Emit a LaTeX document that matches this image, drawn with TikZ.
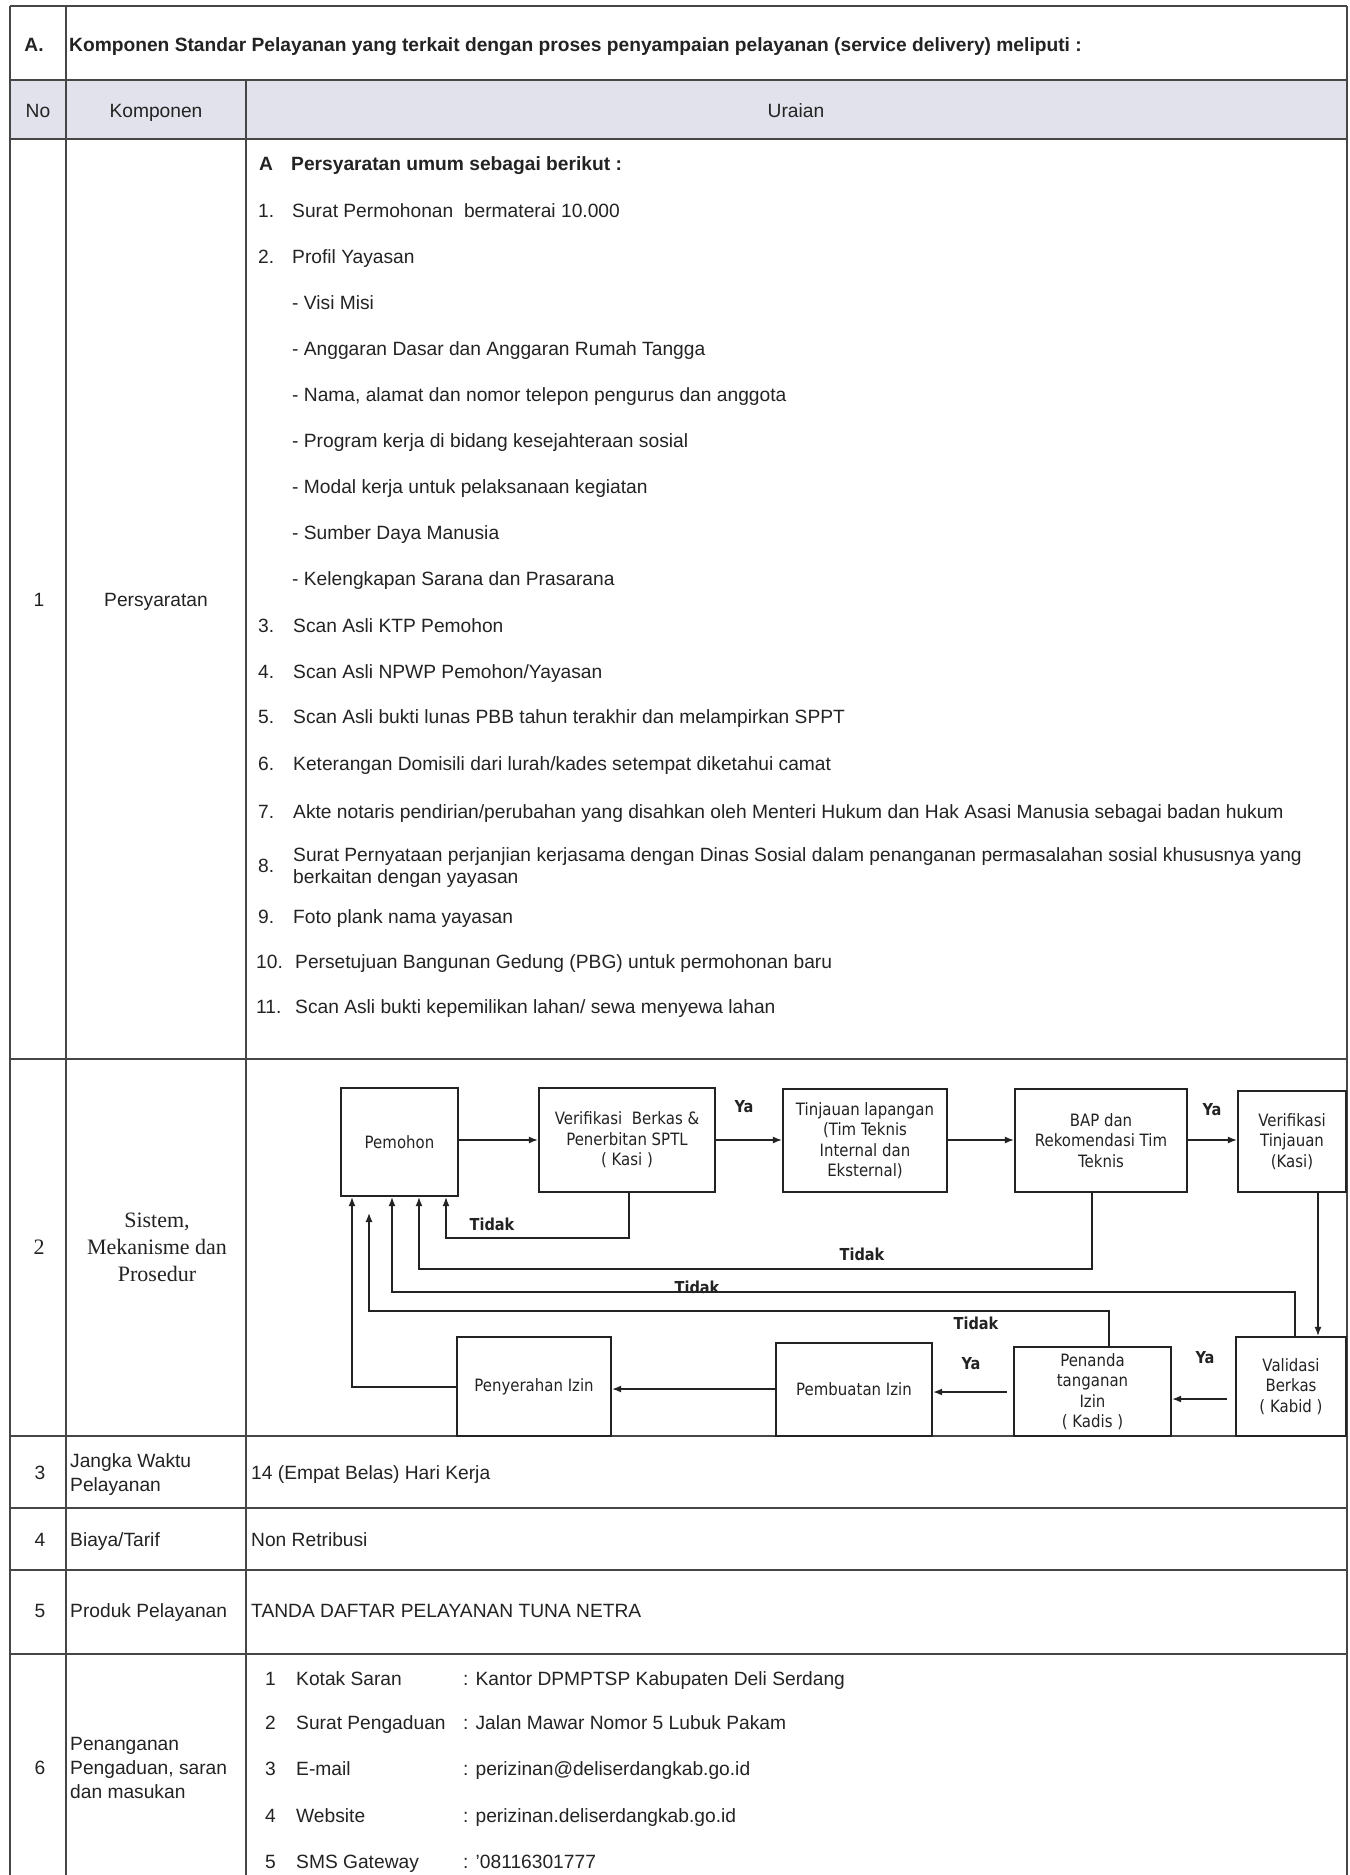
\documentclass[tikz,border=0pt]{standalone}
\usepackage{fontspec}
\setmainfont{Liberation Sans}
\newfontfamily\serifx{Liberation Serif}
\newfontfamily\flowf[FakeStretch=0.88]{DejaVu Sans}
\usetikzlibrary{arrows.meta,calc}
\definecolor{ink}{RGB}{35,35,35}
\definecolor{gridc}{RGB}{70,70,70}
\definecolor{hdr}{RGB}{226,226,236}
\newcommand\bodyf{\fontsize{19.2}{23}\selectfont}
\newcommand\flowsz{\flowf\fontsize{17}{20.5}\selectfont}
\begin{document}
\begin{tikzpicture}[x=1pt,y=-1pt,
 txt/.style={inner sep=0pt, anchor=west, font=\bodyf, text=ink, text height=13.7pt, text depth=0pt},
 txtc/.style={txt, anchor=center},
 txtb/.style={txt, font=\bodyf\bfseries},
 gline/.style={draw=gridc, line width=1.8pt},
 fbox/.style={draw=ink, line width=2.4pt, inner sep=1pt, align=center, font=\flowsz, text=ink},
 arr/.style={draw=ink, line width=1.2pt, -{Latex[length=9pt,width=7pt]}},
 lbl/.style={inner sep=0pt, font=\flowf\fontsize{16.5}{20}\selectfont\bfseries, text=ink},
]
\fill[white] (0,0) rectangle (1350,1875);
\useasboundingbox (0,0) rectangle (1350,1875);
% table
\fill[hdr] (10,80) rectangle (1347,139);
\draw[gline] (10,6) -- (1347,6);
\foreach \yy in {80,139,1059,1436,1508,1570,1654}{\draw[gline] (10,\yy) -- (1347,\yy);}
\draw[gline, line width=2.6pt] (10,6) -- (10,1875);
\draw[gline] (66,6) -- (66,1875);
\draw[gline] (246,80) -- (246,1875);
\draw[gline] (1347,6) -- (1347,1875);
% header
\node[txtb, anchor=center] (ha) at (34,45) {A.};
\node[txtb] (htitle) at (69,45) {Komponen Standar Pelayanan yang terkait dengan proses penyampaian pelayanan (service delivery) meliputi :};
\node[txtc] (hno) at (38,111) {No};
\node[txtc] (hkomp) at (156,111) {Komponen};
\node[txtc] (hur) at (796,111) {Uraian};
% row 1
\node[txtc] (n1) at (39,600) {1};
\node[txtc] (k1) at (156,600) {Persyaratan};
\node[txtb] (ra) at (259,164) {A};
\node[txtb] (rat) at (291,164) {Persyaratan umum sebagai berikut :};
\node[txt] (i1n) at (258,211) {1.};
\node[txt] (i1) at (292,211) {Surat Permohonan\ \ bermaterai 10.000};
\node[txt] (i2n) at (258,257) {2.};
\node[txt] (i2) at (292,257) {Profil Yayasan};
\node[txt] (s1) at (292,303) {- Visi Misi};
\node[txt] (s2) at (292,349) {- Anggaran Dasar dan Anggaran Rumah Tangga};
\node[txt] (s3) at (292,395) {- Nama, alamat dan nomor telepon pengurus dan anggota};
\node[txt] (s4) at (292,441) {- Program kerja di bidang kesejahteraan sosial};
\node[txt] (s5) at (292,487) {- Modal kerja untuk pelaksanaan kegiatan};
\node[txt] (s6) at (292,533) {- Sumber Daya Manusia};
\node[txt] (s7) at (292,579) {- Kelengkapan Sarana dan Prasarana};
\node[txt] (i3n) at (258,626) {3.};
\node[txt] (i3) at (293,626) {Scan Asli KTP Pemohon};
\node[txt] (i4n) at (258,672) {4.};
\node[txt] (i4) at (293,672) {Scan Asli NPWP Pemohon/Yayasan};
\node[txt] (i5n) at (258,717) {5.};
\node[txt] (i5) at (293,717) {Scan Asli bukti lunas PBB tahun terakhir dan melampirkan SPPT};
\node[txt] (i6n) at (258,764) {6.};
\node[txt] (i6) at (293,764) {Keterangan Domisili dari lurah/kades setempat diketahui camat};
\node[txt] (i7n) at (258,812) {7.};
\node[txt] (i7) at (293,812) {Akte notaris pendirian/perubahan yang disahkan oleh Menteri Hukum dan Hak Asasi Manusia sebagai badan hukum};
\node[txt] (i8n) at (258,866) {8.};
\node[txt] (i8a) at (293,855) {Surat Pernyataan perjanjian kerjasama dengan Dinas Sosial dalam penanganan permasalahan sosial khususnya yang};
\node[txt] (i8b) at (293,877) {berkaitan dengan yayasan};
\node[txt] (i9n) at (258,917) {9.};
\node[txt] (i9) at (293,917) {Foto plank nama yayasan};
\node[txt] (i10n) at (256,962) {10.};
\node[txt] (i10) at (295,962) {Persetujuan Bangunan Gedung (PBG) untuk permohonan baru};
\node[txt] (i11n) at (256,1007) {11.};
\node[txt] (i11) at (295,1007) {Scan Asli bukti kepemilikan lahan/ sewa menyewa lahan};
% row 2
\node[inner sep=0pt, font=\serifx\fontsize{22}{27}\selectfont, text=ink] (n2) at (39,1247) {2};
\node[inner sep=0pt, align=center, font=\serifx\fontsize{22}{27}\selectfont, text=ink] (k2) at (157,1247) {Sistem,\\Mekanisme dan\\Prosedur};
% flowchart boxes
\node[fbox, minimum width=117pt, minimum height=108pt] (pem) at (399.5,1142) {Pemohon};
\node[fbox, minimum width=176pt, minimum height=104pt] (ver) at (627,1140) {Verifikasi\ \ Berkas \&\\Penerbitan SPTL\\( Kasi )};
\node[fbox, minimum width=164pt, minimum height=103pt] (tin) at (865,1140.5) {Tinjauan lapangan\\(Tim Teknis\\Internal dan\\Eksternal)};
\node[fbox, minimum width=172pt, minimum height=103pt] (bap) at (1101,1140.5) {BAP dan\\Rekomendasi Tim\\Teknis};
\node[fbox, minimum width=108pt, minimum height=101pt] (vt) at (1292,1141.5) {Verifikasi\\Tinjauan\\(Kasi)};
\node[fbox, minimum width=110pt, minimum height=99pt] (val) at (1291,1386.5) {Validasi\\Berkas\\( Kabid )};
\node[fbox, minimum width=157pt, minimum height=89pt] (pen) at (1092.5,1391.5) {Penanda\\tanganan\\Izin\\( Kadis )};
\node[fbox, minimum width=156pt, minimum height=93pt] (pemb) at (854,1389.5) {Pembuatan Izin};
\node[fbox, minimum width=154pt, minimum height=99pt] (pyr) at (534,1386.5) {Penyerahan Izin};
% main flow
\coordinate (ya) at (0,1140);
\draw[arr] (pem.east |- ya) -- (ver.west |- ya);
\draw[arr] (ver.east |- ya) -- (tin.west |- ya);
\draw[arr] (tin.east |- ya) -- (bap.west |- ya);
\draw[arr] (bap.east |- ya) -- (vt.west |- ya);
\coordinate (xd) at (1318,0);
\draw[arr] (vt.south -| xd) -- (val.north -| xd);
\coordinate (yb) at (0,1399);
\coordinate (yc) at (0,1392);
\coordinate (yd) at (0,1389);
\draw[arr] ($(val.west |- yb)+(-8,0)$) -- (pen.east |- yb);
\draw[arr] ($(pen.west |- yc)+(-6,0)$) -- (pemb.east |- yc);
\draw[arr] (pemb.west |- yd) -- (pyr.east |- yd);
% feedback lines
\coordinate (v1) at (629,1238);
\coordinate (v2) at (446,1238);
\draw[arr] (ver.south -| v1) -- (v1) -- (v2) -- (pem.south -| v2);
\coordinate (b1) at (1092,1269);
\coordinate (b2) at (419,1269);
\draw[arr] (bap.south -| b1) -- (b1) -- (b2) -- (pem.south -| b2);
\coordinate (l1) at (1295,1292);
\coordinate (l2) at (392,1292);
\draw[arr] (val.north -| l1) -- (l1) -- (l2) -- (pem.south -| l2);
\coordinate (p1) at (1109,1311);
\coordinate (p2) at (369,1311);
\coordinate (p3) at (369,1213);
\draw[arr] (pen.north -| p1) -- (p1) -- (p2) -- (p3);
\coordinate (q1) at (352,1387);
\draw[arr] (pyr.west |- q1) -- (q1) -- (pem.south -| q1);
% labels
\node[lbl] (t1) at (492,1224) {Tidak};
\node[lbl] (t2) at (862,1254) {Tidak};
\node[lbl] (t3) at (697,1287) {Tidak};
\node[lbl] (t4) at (976,1323) {Tidak};
\node[lbl] (y1) at (744,1107) {Ya};
\node[lbl] (y2) at (1212,1110) {Ya};
\node[lbl] (y3) at (971,1364) {Ya};
\node[lbl] (y4) at (1205,1358) {Ya};
% row 3
\node[txtc] (n3) at (40,1473) {3};
\node[txt] (k3a) at (70,1461) {Jangka Waktu};
\node[txt] (k3b) at (70,1485) {Pelayanan};
\node[txt] (u3) at (251,1473) {14 (Empat Belas) Hari Kerja};
% row 4
\node[txtc] (n4) at (40,1540) {4};
\node[txt] (k4) at (70,1540) {Biaya/Tarif};
\node[txt] (u4) at (251,1540) {Non Retribusi};
% row 5
\node[txtc] (n5) at (40,1611) {5};
\node[txt] (k5) at (70,1611) {Produk Pelayanan};
\node[txt] (u5) at (251,1611) {TANDA DAFTAR PELAYANAN TUNA NETRA};
% row 6
\node[txtc] (n6) at (40,1768) {6};
\node[txt] (k6a) at (70,1744) {Penanganan};
\node[txt] (k6b) at (70,1768) {Pengaduan, saran};
\node[txt] (k6c) at (70,1792) {dan masukan};
\node[txt] (c1n) at (265,1679) {1};
\node[txt] (c1l) at (296,1679) {Kotak Saran};
\node[txt] (c1v) at (463,1679) {: Kantor DPMPTSP Kabupaten Deli Serdang};
\node[txt] (c2n) at (265,1723) {2};
\node[txt] (c2l) at (296,1723) {Surat Pengaduan};
\node[txt] (c2v) at (463,1723) {: Jalan Mawar Nomor 5 Lubuk Pakam};
\node[txt] (c3n) at (265,1769) {3};
\node[txt] (c3l) at (296,1769) {E-mail};
\node[txt] (c3v) at (463,1769) {: perizinan@deliserdangkab.go.id};
\node[txt] (c4n) at (265,1816) {4};
\node[txt] (c4l) at (296,1816) {Website};
\node[txt] (c4v) at (463,1816) {: perizinan.deliserdangkab.go.id};
\node[txt] (c5n) at (265,1862) {5};
\node[txt] (c5l) at (296,1862) {SMS Gateway};
\node[txt] (c5v) at (463,1862) {: '08116301777};
\end{tikzpicture}
\end{document}
